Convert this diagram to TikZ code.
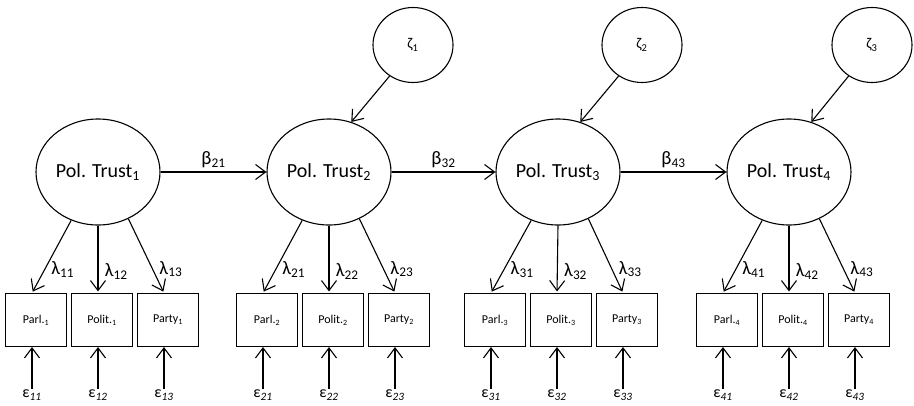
\documentclass[tikz,border=0pt]{standalone}
\usepackage{fontspec}
\setmainfont{Carlito}
\usetikzlibrary{shapes.geometric,arrows.meta}

\begin{document}
\begin{tikzpicture}[x=1pt,y=-1pt,line width=1.1pt,
    >={Straight Barb[length=10pt,width=15pt]}]

        \useasboundingbox (0,0) rectangle (914,405);

        \begin{scope}[every node/.style={ellipse,draw,inner sep=0pt,minimum width=124pt,minimum height=106pt,font=\fontsize{20}{24}\selectfont}]
          \node (T1) at (98,172)  {Pol. Trust\textsubscript{1}};
          \node (T2) at (329,172) {Pol. Trust\textsubscript{2}};
          \node (T3) at (558,172) {Pol. Trust\textsubscript{3}};
          \node (T4) at (789,172) {Pol. Trust\textsubscript{4}};
        \end{scope}

        \begin{scope}[every node/.style={ellipse,draw,inner sep=0pt,minimum width=80pt,minimum height=75pt,font=\fontsize{15}{17}\selectfont}]
          \node (Z1) at (413,45) {ζ\textsubscript{1}};
          \node (Z2) at (642,45) {ζ\textsubscript{2}};
          \node (Z3) at (872,45) {ζ\textsubscript{3}};
        \end{scope}

        \begin{scope}[every node/.style={rectangle,draw,minimum width=61pt,minimum height=53pt,font=\fontsize{12}{14}\selectfont}]
          \node (P11) at (36,320)  {Parl.\textsubscript{1}};
          \node (P12) at (102,320) {Polit.\textsubscript{1}};
          \node (P13) at (168,320) {Party\textsubscript{1}};
          \node (P21) at (267,320) {Parl.\textsubscript{2}};
          \node (P22) at (333,320) {Polit.\textsubscript{2}};
          \node (P23) at (399,320) {Party\textsubscript{2}};
          \node (P31) at (495,320) {Parl.\textsubscript{3}};
          \node (P32) at (561,320) {Polit.\textsubscript{3}};
          \node (P33) at (627,320) {Party\textsubscript{3}};
          \node (P41) at (727,320) {Parl.\textsubscript{4}};
          \node (P42) at (793,320) {Polit.\textsubscript{4}};
          \node (P43) at (859,320) {Party\textsubscript{4}};
        \end{scope}

        \begin{scope}[every node/.style={font=\fontsize{16}{18}\selectfont}]
          \node (e11) at (32,395)  {ε\textsubscript{\itshape 11}};
          \node (e12) at (98,395)  {ε\textsubscript{\itshape 12}};
          \node (e13) at (164,395) {ε\textsubscript{\itshape 13}};
          \node (e21) at (263,395) {ε\textsubscript{\itshape 21}};
          \node (e22) at (329,395) {ε\textsubscript{\itshape 22}};
          \node (e23) at (395,395) {ε\textsubscript{\itshape 23}};
          \node (e31) at (491,395) {ε\textsubscript{\itshape 31}};
          \node (e32) at (557,395) {ε\textsubscript{\itshape 32}};
          \node (e33) at (623,395) {ε\textsubscript{\itshape 33}};
          \node (e41) at (723,395) {ε\textsubscript{\itshape 41}};
          \node (e42) at (789,395) {ε\textsubscript{\itshape 42}};
          \node (e43) at (855,395) {ε\textsubscript{\itshape 43}};
        \end{scope}

        \begin{scope}[every node/.style={font=\fontsize{19}{21}\selectfont}]

          % structural paths
          \path[->] (T1) edge node[above] {β\textsubscript{21}} (T2);
          \path[->] (T2) edge node[above] {β\textsubscript{32}} (T3);
          \path[->] (T3) edge node[above] {β\textsubscript{43}} (T4);
          \path[->] (Z1.233) edge (T2.66);
          \path[->] (Z2.233) edge (T3.66);
          \path[->] (Z3.233) edge (T4.66);

          % loadings
          \begin{scope}[every edge/.style={draw,shorten >=1.5pt}]
            \path[->] (T1.241) edge node[pos=.68,right=3pt] {λ\textsubscript{11}} (e11 |- P11.north);
            \path[->] (T1.270) edge node[pos=.68,right=3pt] {λ\textsubscript{12}} (e12 |- P12.north);
            \path[->] (T1.303) edge node[pos=.68,right=3pt] {λ\textsubscript{13}} (e13 |- P13.north);
            \path[->] (T2.241) edge node[pos=.68,right=3pt] {λ\textsubscript{21}} (e21 |- P21.north);
            \path[->] (T2.270) edge node[pos=.68,right=3pt] {λ\textsubscript{22}} (e22 |- P22.north);
            \path[->] (T2.303) edge node[pos=.68,right=3pt] {λ\textsubscript{23}} (e23 |- P23.north);
            \path[->] (T3.241) edge node[pos=.68,right=3pt] {λ\textsubscript{31}} (e31 |- P31.north);
            \path[->] (T3.270) edge node[pos=.68,right=3pt] {λ\textsubscript{32}} (e32 |- P32.north);
            \path[->] (T3.303) edge node[pos=.68,right=3pt] {λ\textsubscript{33}} (e33 |- P33.north);
            \path[->] (T4.241) edge node[pos=.68,right=3pt] {λ\textsubscript{41}} (e41 |- P41.north);
            \path[->] (T4.270) edge node[pos=.68,right=3pt] {λ\textsubscript{42}} (e42 |- P42.north);
            \path[->] (T4.303) edge node[pos=.68,right=3pt] {λ\textsubscript{43}} (e43 |- P43.north);
          \end{scope}

          % errors
          \begin{scope}[every edge/.style={draw,shorten <=-3pt}]
            \path[->] (e11) edge (e11 |- P11.south);
            \path[->] (e12) edge (e12 |- P12.south);
            \path[->] (e13) edge (e13 |- P13.south);
            \path[->] (e21) edge (e21 |- P21.south);
            \path[->] (e22) edge (e22 |- P22.south);
            \path[->] (e23) edge (e23 |- P23.south);
            \path[->] (e31) edge (e31 |- P31.south);
            \path[->] (e32) edge (e32 |- P32.south);
            \path[->] (e33) edge (e33 |- P33.south);
            \path[->] (e41) edge (e41 |- P41.south);
            \path[->] (e42) edge (e42 |- P42.south);
            \path[->] (e43) edge (e43 |- P43.south);
          \end{scope}
        \end{scope}

      \end{tikzpicture}
\end{document}
